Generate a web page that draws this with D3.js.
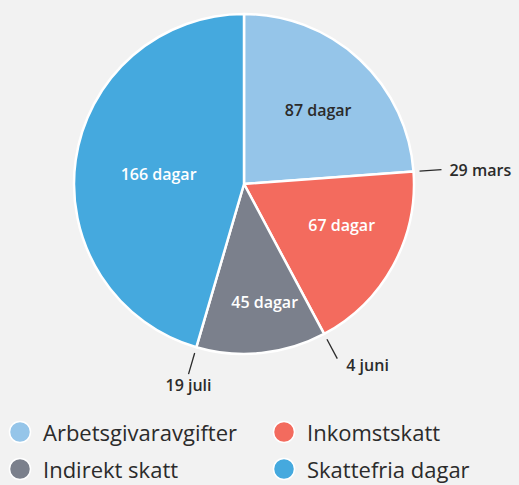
<!DOCTYPE html>
<html>
<head>
<meta charset="utf-8">
<script src="https://cdn.jsdelivr.net/npm/d3@7"></script>
<style>
  html, body { margin: 0; padding: 0; background: #f2f2f2; }
  svg { display: block; font-family: "Open Sans", sans-serif; }
</style>
</head>
<body>
<svg id="chart" width="519" height="485"></svg>
<script>
// chart values
const categories = ["Arbetsgivaravgifter", "Inkomstskatt", "Indirekt skatt", "Skattefria dagar"];
const days = [87, 67, 45, 166];
const sliceLabels = ["87 dagar", "67 dagar", "45 dagar", "166 dagar"];
const dateLabels = ["29 mars", "4 juni", "19 juli"];   // end of first three slices
const colors = ["#95c5e9", "#f36b5e", "#7b808c", "#45a9de"];

const W = 519, H = 485;
const cx = 244, cy = 184, R = 170;

const svg = d3.select("#chart");
const g = svg.append("g").attr("transform", "translate(" + cx + "," + cy + ")");

const pie = d3.pie().sort(null).value(d => d);
const arcs = pie(days);
const arc = d3.arc().innerRadius(0).outerRadius(R);

g.selectAll("path.slice")
    .data(arcs)
    .enter()
    .append("path")
        .attr("class", "slice")
        .attr("d", arc)
        .attr("fill", (d, i) => colors[i])
        .attr("stroke", "white")
        .attr("stroke-width", 2.5)
        .attr("stroke-linejoin", "round");

// label radius + angle nudge (degrees) per slice, tweaked by eye
const labelR = [105, 106, 120, 86];
const labelNudge = [2, -6, -4, -1.4];
const pt = (a, r) => [Math.sin(a) * r, -Math.cos(a) * r];
const labelPos = (d, i) => pt((d.startAngle + d.endAngle) / 2 + labelNudge[i] * Math.PI / 180, labelR[i]);

g.selectAll("text.slice-label")
    .data(arcs)
    .enter()
    .append("text")
        .attr("class", "slice-label")
        .attr("x", (d, i) => labelPos(d, i)[0])
        .attr("y", (d, i) => labelPos(d, i)[1])
        .attr("text-anchor", "middle")
        .attr("dominant-baseline", "central")
        .attr("font-size", "16px")
        .attr("font-weight", 600)
        .attr("fill", (d, i) => i === 0 ? "#2b2b2b" : "#ffffff")
        .text((d, i) => sliceLabels[i]);

// leader lines at slice boundaries
const boundaries = arcs.slice(0, 3).map(d => d.endAngle);
const lineIn = R + 6, lineOut = R + 28;

g.selectAll("line.leader")
    .data(boundaries)
    .enter()
    .append("line")
        .attr("class", "leader")
        .attr("x1", a => pt(a, lineIn)[0])
        .attr("y1", a => pt(a, lineIn)[1])
        .attr("x2", a => pt(a, lineOut)[0])
        .attr("y2", a => pt(a, lineOut)[1])
        .attr("stroke", "#2b2b2b")
        .attr("stroke-width", 1.3);

const dateOffsets = [[8, 0, "start"], [9, 6, "start"], [0, 11, "middle"]];
g.selectAll("text.date")
    .data(boundaries)
    .enter()
    .append("text")
        .attr("class", "date")
        .attr("x", (a, i) => pt(a, lineOut)[0] + dateOffsets[i][0])
        .attr("y", (a, i) => pt(a, lineOut)[1] + dateOffsets[i][1])
        .attr("text-anchor", (a, i) => dateOffsets[i][2])
        .attr("dominant-baseline", "central")
        .attr("font-size", "16px")
        .attr("font-weight", 600)
        .attr("fill", "#2b2b2b")
        .text((a, i) => dateLabels[i]);

// legend
const legend = svg.append("g");
const item = legend.selectAll("g.item")
    .data(categories)
    .enter()
    .append("g")
        .attr("class", "item")
        .attr("transform", (d, i) => "translate(" + (i % 2 === 0 ? 20 : 284) + "," + (i < 2 ? 432 : 469) + ")");

item.append("circle")
    .attr("r", 10.5)
    .attr("fill", (d, i) => colors[i])
    .attr("stroke", "white")
    .attr("stroke-width", 1.5);

item.append("text")
    .attr("x", 23)
    .attr("dominant-baseline", "central")
    .attr("font-size", "22px")
    .attr("fill", "#2b2b2b")
    .text(d => d);
</script>
</body>
</html>
